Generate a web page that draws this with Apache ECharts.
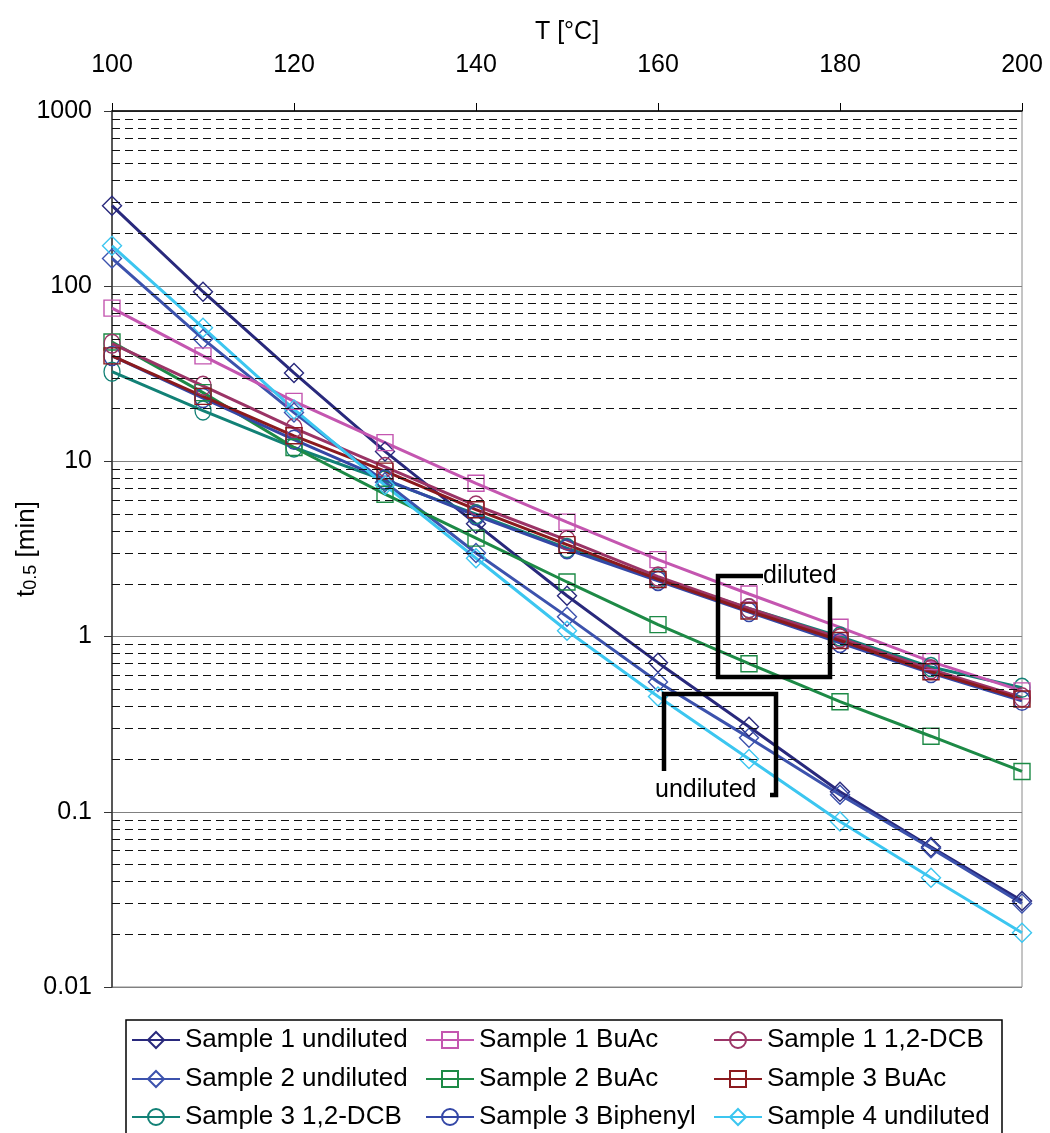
<!DOCTYPE html>
<html>
<head>
<meta charset="utf-8">
<script src="https://cdn.jsdelivr.net/npm/echarts@6/dist/echarts.min.js"></script>
<style>html,body{margin:0;padding:0;background:#fff}#c{width:1050px;height:1133px}</style>
</head>
<body>
<div id="c"></div>
<script>
// ---- data ----
const temperatures = [100, 110, 120, 130, 140, 150, 160, 170, 180, 190, 200];
const xTicks = [100, 120, 140, 160, 180, 200];
const yTickLabels = { 0.01: '0.01', 0.1: '0.1', 1: '1', 10: '10', 100: '100', 1000: '1000' };
const minorGridValues = [0.02,0.03,0.04,0.05,0.06,0.07,0.08,0.09,
  0.2,0.3,0.4,0.5,0.6,0.7,0.8,0.9, 2,3,4,5,6,7,8,9,
  20,30,40,50,60,70,80,90, 200,300,400,500,600,700,800,900];

const s1Undiluted = [288, 93, 32, 11.4, 4.4, 1.71, 0.71, 0.306, 0.13, 0.063, 0.031];
const s2Undiluted = [144, 50, 19, 7.6, 3.0, 1.30, 0.55, 0.265, 0.125, 0.062, 0.030];
const s4Undiluted = [170, 58, 19.8, 7.3, 2.8, 1.08, 0.455, 0.20, 0.088, 0.042, 0.0204];
const s1BuAc = [75, 40, 22, 12.8, 7.5, 4.5, 2.75, 1.75, 1.13, 0.72, 0.49];
const s2BuAc = [48, 24.7, 12, 6.5, 3.65, 2.05, 1.17, 0.70, 0.425, 0.27, 0.17];
const s1DCB = [47, 27, 15.5, 9.3, 5.6, 3.55, 2.2, 1.45, 0.98, 0.65, 0.45];
const s3BuAc = [40, 23.5, 14, 8.8, 5.3, 3.35, 2.12, 1.4, 0.95, 0.63, 0.44];
const s3DCB = [32.5, 19.5, 12, 7.8, 5.0, 3.2, 2.15, 1.45, 1.0, 0.67, 0.51];
const s3Biphenyl = [40, 23, 13.3, 7.9, 4.9, 3.15, 2.08, 1.38, 0.92, 0.62, 0.43];

const seriesDefs = [
  { name: 'Sample 1 undiluted', values: s1Undiluted, color: '#29297c', symbol: 'diamond' },
  { name: 'Sample 2 undiluted', values: s2Undiluted, color: '#3c52ad', symbol: 'diamond' },
  { name: 'Sample 3 1,2-DCB', values: s3DCB, color: '#128176', symbol: 'circle' },
  { name: 'Sample 1 BuAc', values: s1BuAc, color: '#c456b0', symbol: 'rect' },
  { name: 'Sample 2 BuAc', values: s2BuAc, color: '#1d8a46', symbol: 'rect' },
  { name: 'Sample 3 Biphenyl', values: s3Biphenyl, color: '#3447a6', symbol: 'circle' },
  { name: 'Sample 1 1,2-DCB', values: s1DCB, color: '#9b3466', symbol: 'circle' },
  { name: 'Sample 3 BuAc', values: s3BuAc, color: '#8b1a1e', symbol: 'rect' },
  { name: 'Sample 4 undiluted', values: s4Undiluted, color: '#3cc6f0', symbol: 'diamond' }
];
const legendColumns = [
  ['Sample 1 undiluted', 'Sample 2 undiluted', 'Sample 3 1,2-DCB'],
  ['Sample 1 BuAc', 'Sample 2 BuAc', 'Sample 3 Biphenyl'],
  ['Sample 1 1,2-DCB', 'Sample 3 BuAc', 'Sample 4 undiluted']
];
const legendLefts = [131, 425, 713];
const legendRowCenters = [1040, 1079, 1117];

const FONT = '"Liberation Sans", Arial, sans-serif';
const chart = echarts.init(document.getElementById('c'), null, { renderer: 'canvas' });

const series = seriesDefs.map(d => ({
  name: d.name,
  type: 'line',
  data: temperatures.map((t, i) => [t, d.values[i]]),
  symbol: d.symbol,
  symbolSize: d.symbol === 'diamond' ? 19 : (d.symbol === 'rect' ? 16 : [16, 19]),
  showAllSymbol: true,
  lineStyle: { color: d.color, width: 3 },
  itemStyle: { color: 'rgba(255,255,255,0)', borderColor: d.color, borderWidth: 1.4 },
  emphasis: { disabled: true },
  animation: false,
  z: 3
}));

series.push({
  type: 'line',
  data: [],
  silent: true,
  animation: false,
  markLine: {
    silent: true,
    symbol: ['none', 'none'],
    label: { show: false },
    lineStyle: { color: '#111', width: 1, type: [8, 5] },
    emphasis: { disabled: true },
    data: minorGridValues.map(v => ({ yAxis: v }))
  },
  z: 1
});

const legends = [];
legendColumns.forEach((col, ci) => {
  col.forEach((name, ri) => {
    legends.push({
      data: [name],
      orient: 'horizontal',
      left: legendLefts[ci],
      top: legendRowCenters[ri] - 13,
      padding: 0,
      itemWidth: 48,
      itemHeight: 20,
      selectedMode: false,
      textStyle: { fontSize: 26, color: '#000', fontFamily: FONT, lineHeight: 26 }
    });
  });
});

const option = {
  backgroundColor: '#fff',
  animation: false,
  textStyle: { fontFamily: FONT, color: '#000' },
  grid: { left: 112, right: 28, top: 111, bottom: 146, show: true, borderColor: '#8a8a8a', borderWidth: 1,
    containLabel: false, outerBoundsMode: 'none' },
  xAxis: {
    type: 'value', position: 'top', min: 100, max: 200, interval: 20,
    name: 'T [°C]', nameLocation: 'middle', nameGap: 66, nameMoveOverlap: false,
    nameTextStyle: { fontSize: 25, color: '#000', fontFamily: FONT },
    axisLine: { show: true, lineStyle: { color: '#000', width: 1.5 } },
    axisTick: { show: true, inside: false, length: 8, lineStyle: { color: '#000', width: 1 } },
    axisLabel: { fontSize: 25, color: '#000', margin: 33, fontFamily: FONT,
      formatter: v => xTicks.includes(v) ? String(v) : '' },
    splitLine: { show: false }
  },
  yAxis: {
    type: 'log', logBase: 10, min: 0.01, max: 1000,
    name: '{t|t}{s|0.5}{t| [min]}', nameLocation: 'middle', nameGap: 72, nameRotate: 90,
    nameMoveOverlap: false,
    nameTextStyle: { color: '#000', fontFamily: FONT,
      rich: {
        t: { fontSize: 26, fontFamily: FONT, color: '#000', verticalAlign: 'bottom', lineHeight: 32 },
        s: { fontSize: 18, fontFamily: FONT, color: '#000', verticalAlign: 'bottom', lineHeight: 18 }
      } },
    axisLine: { show: true, lineStyle: { color: '#333', width: 1.5 } },
    axisTick: { show: true, inside: false, length: 8, lineStyle: { color: '#333', width: 1 } },
    axisLabel: { fontSize: 25, color: '#000', margin: 20, fontFamily: FONT,
      formatter: v => yTickLabels[v] !== undefined ? yTickLabels[v] : String(v) },
    splitLine: { show: true, lineStyle: { color: '#808080', width: 1 } },
    minorTick: { show: false }, minorSplitLine: { show: false }
  },
  legend: legends,
  graphic: [
    { type: 'rect', shape: { x: 126, y: 1020, width: 876, height: 130 },
      style: { fill: 'none', stroke: '#000', lineWidth: 1.5 }, silent: true, z: 0 },
    { type: 'polyline', shape: { points: [[768, 576], [718, 576], [718, 677], [830, 677], [830, 597]] },
      style: { fill: 'none', stroke: '#000', lineWidth: 4.5, lineJoin: 'miter' }, silent: true, z: 10 },
    { type: 'text', x: 763, y: 576, style: { text: 'diluted', fontSize: 25, fontFamily: FONT, fill: '#000', verticalAlign: 'middle', align: 'left', backgroundColor: '#fff' }, silent: true, z: 11 },
    { type: 'polyline', shape: { points: [[664, 771], [664, 694], [776, 694], [776, 795], [770, 795]] },
      style: { fill: 'none', stroke: '#000', lineWidth: 4.5, lineJoin: 'miter' }, silent: true, z: 10 },
    { type: 'text', x: 655, y: 790, style: { text: 'undiluted', fontSize: 25, fontFamily: FONT, fill: '#000', verticalAlign: 'middle', align: 'left', backgroundColor: '#fff' }, silent: true, z: 11 }
  ],
  series: series
};
chart.setOption(option);
</script>
</body>
</html>
